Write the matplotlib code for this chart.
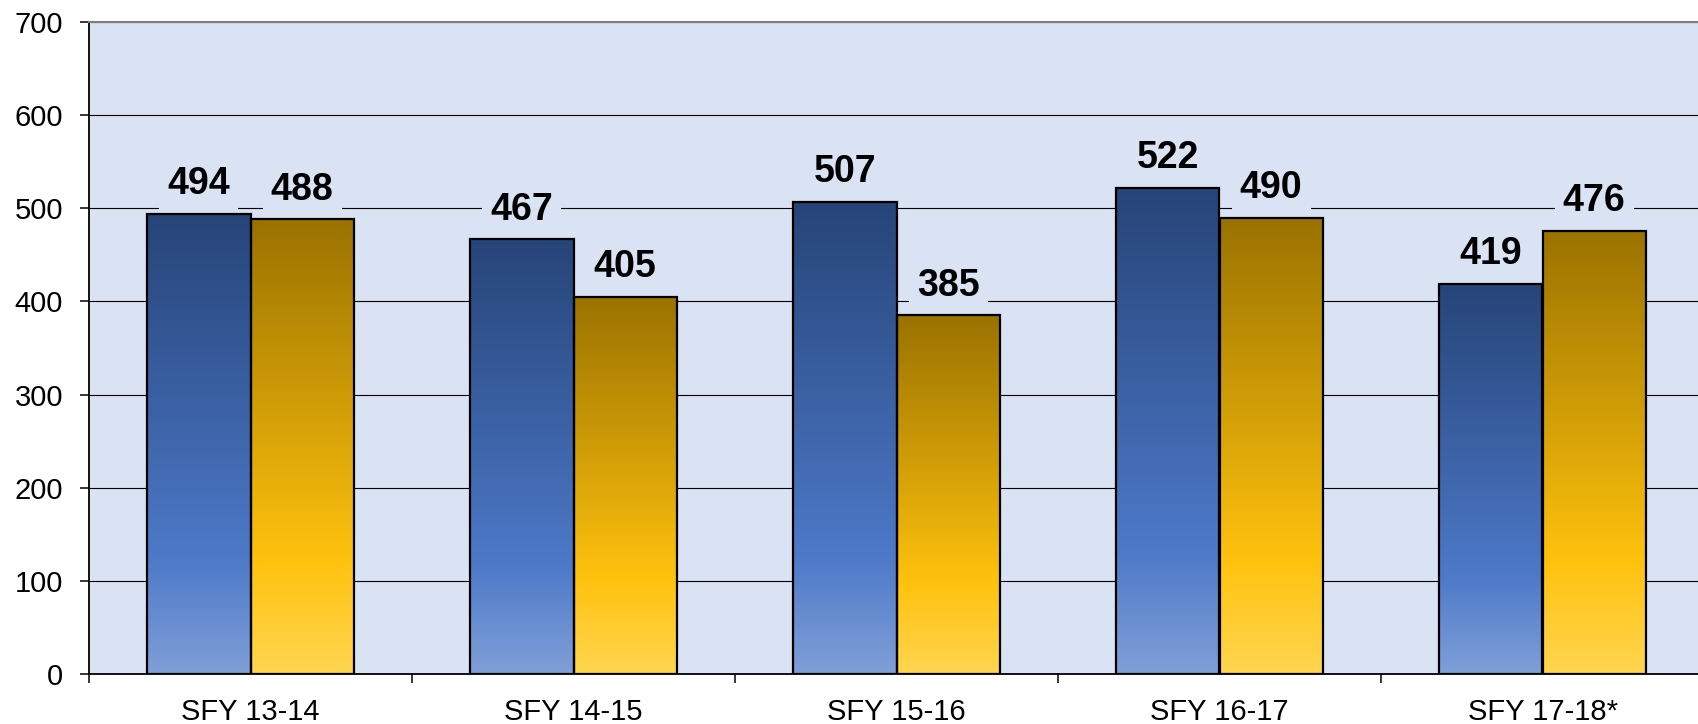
import matplotlib.pyplot as plt
import numpy as np
from matplotlib.colors import LinearSegmentedColormap

plt.rcParams['font.family'] = ['Liberation Sans', 'DejaVu Sans']

# datos
categorias = ["SFY 13-14", "SFY 14-15", "SFY 15-16", "SFY 16-17", "SFY 17-18*"]
serie_azul = [494, 467, 507, 522, 419]
serie_oro = [488, 405, 385, 490, 476]
yticks = [0, 100, 200, 300, 400, 500, 600, 700]

fondo = "#dae3f3"
cmap_azul = LinearSegmentedColormap.from_list(
    "azul", [(0.0, "#809fd8"), (0.25, "#4d79c8"), (1.0, "#264478")])
cmap_oro = LinearSegmentedColormap.from_list(
    "oro", [(0.0, "#ffd550"), (0.25, "#ffc20e"), (1.0, "#9a7200")])

fig = plt.figure(figsize=(16.99, 7.24), dpi=100)
fig.patch.set_facecolor("white")
ax = fig.add_axes([89/1699, 50/724, 1615/1699, 652/724])
ax.set_facecolor(fondo)

x = np.arange(len(categorias))
ancho = 0.32
grad = np.linspace(0, 1, 256).reshape(-1, 1)

def barras(pos, valores, cmap):
    bars = ax.bar(pos, valores, ancho, fill=False, edgecolor="black",
                  linewidth=1.6, zorder=3)
    for b in bars:
        x0, w, h = b.get_x(), b.get_width(), b.get_height()
        ax.imshow(grad, extent=[x0, x0 + w, 0, h], origin="lower",
                  cmap=cmap, aspect="auto", zorder=2, interpolation="bicubic")
        ax.annotate(f"{h:.0f}", (x0 + w/2, h), xytext=(0, 14),
                    textcoords="offset points", ha="center", va="baseline",
                    fontsize=27, fontweight="bold", zorder=4,
                    bbox=dict(facecolor=fondo, edgecolor="none", pad=6))

barras(x - ancho/2, serie_azul, cmap_azul)
barras(x + ancho/2, serie_oro, cmap_oro)

ax.set_xlim(-0.5, len(categorias) - 0.5)
ax.set_ylim(0, 700)
ax.set_yticks(yticks)
ax.set_yticklabels([str(t) for t in yticks], fontsize=21)
ax.yaxis.grid(True, color="black", linewidth=0.8)
ax.set_axisbelow(True)

ax.set_xticks(x)
ax.set_xticklabels(categorias, fontsize=21)
ax.set_xticks(np.arange(-0.5, len(categorias)), minor=True)
ax.tick_params(axis="x", which="major", length=0, pad=17)
ax.tick_params(axis="x", which="minor", length=6.5, width=1.1, direction="out")
ax.tick_params(axis="y", length=6.7, width=1.1, pad=12)

ax.spines["right"].set_visible(False)
ax.spines["top"].set_color("#808080")
ax.spines["top"].set_linewidth(1.5)
ax.spines["left"].set_linewidth(1.3)
ax.spines["bottom"].set_linewidth(1.3)

fig.savefig("out.png", dpi=100)
